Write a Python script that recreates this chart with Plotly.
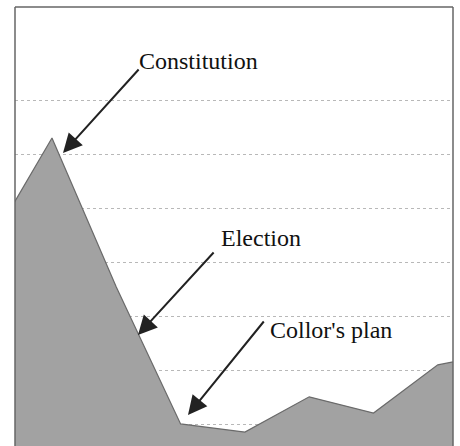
import plotly.graph_objects as go

# Data (index positions and values)
periods = [0, 1, 2, 3, 4, 5, 6, 7, 8]
values = [42.7, 63.0, 35.5, 10.2, 8.7, 15.2, 12.2, 21.1, 23.5]
grid_vals = [10, 20, 30, 40, 50, 60, 70]
labels = ["Constitution", "Election", "Collor's plan"]

W, H = 460, 446
L, R, T, B = 15, 7, 7, 0
pw, ph = W - L - R, H - T - B

def px(x):
    return (x - L) / pw

def py(y):
    return (H - B - y) / ph

fig = go.Figure()
fig.add_trace(go.Scatter(
    x=periods, y=values, mode="lines", fill="tozeroy",
    fillcolor="#a2a2a2", line=dict(color="#6a6a6a", width=1.2),
    hoverinfo="skip", showlegend=False,
))

font = dict(family="Liberation Serif, Times New Roman, serif", size=24, color="#111")

# Arrows (tip in paper coords, tail as pixel offsets)
arrows = [((63, 153), (140, 68)), ((138, 335), (215, 251)), ((188, 415), (265, 320))]
for (tx, ty), (ax, ay) in arrows:
    fig.add_annotation(x=px(tx), y=py(ty), xref="paper", yref="paper", text="",
                       showarrow=True, arrowhead=2, arrowsize=1.9, arrowwidth=2,
                       arrowcolor="#222", ax=ax - tx, ay=ay - ty, standoff=0)

text_pos = [(137, 61), (219, 238), (268, 330)]
for lab, (x, y) in zip(labels, text_pos):
    fig.add_annotation(x=px(x), y=py(y), xref="paper", yref="paper", text=lab,
                       showarrow=False, xanchor="left", yanchor="middle", font=font)

# Frame lines (left, top, right)
for x0, y0, x1, y1 in [(0, 0, 0, 1), (0, 1, 1, 1), (1, 0, 1, 1)]:
    fig.add_shape(type="line", xref="paper", yref="paper", x0=x0, y0=y0, x1=x1, y1=y1,
                  line=dict(color="#666", width=1.5))

fig.update_xaxes(range=[0.425, 7.236], showgrid=False, zeroline=False,
                 showticklabels=False, showline=False, ticks="")
fig.update_yaxes(range=[6.12, 87.2], tickvals=grid_vals, showgrid=True,
                 gridcolor="#b8b8b8", gridwidth=1, griddash="dot", zeroline=False,
                 showticklabels=False, showline=False, ticks="")
fig.update_layout(width=W, height=H, margin=dict(l=L, r=R, t=T, b=B, pad=0),
                  plot_bgcolor="white", paper_bgcolor="white")
fig.write_html("out.html", config={"displayModeBar": False},
               post_script="document.body.style.margin='0';document.body.style.overflow='hidden';")
